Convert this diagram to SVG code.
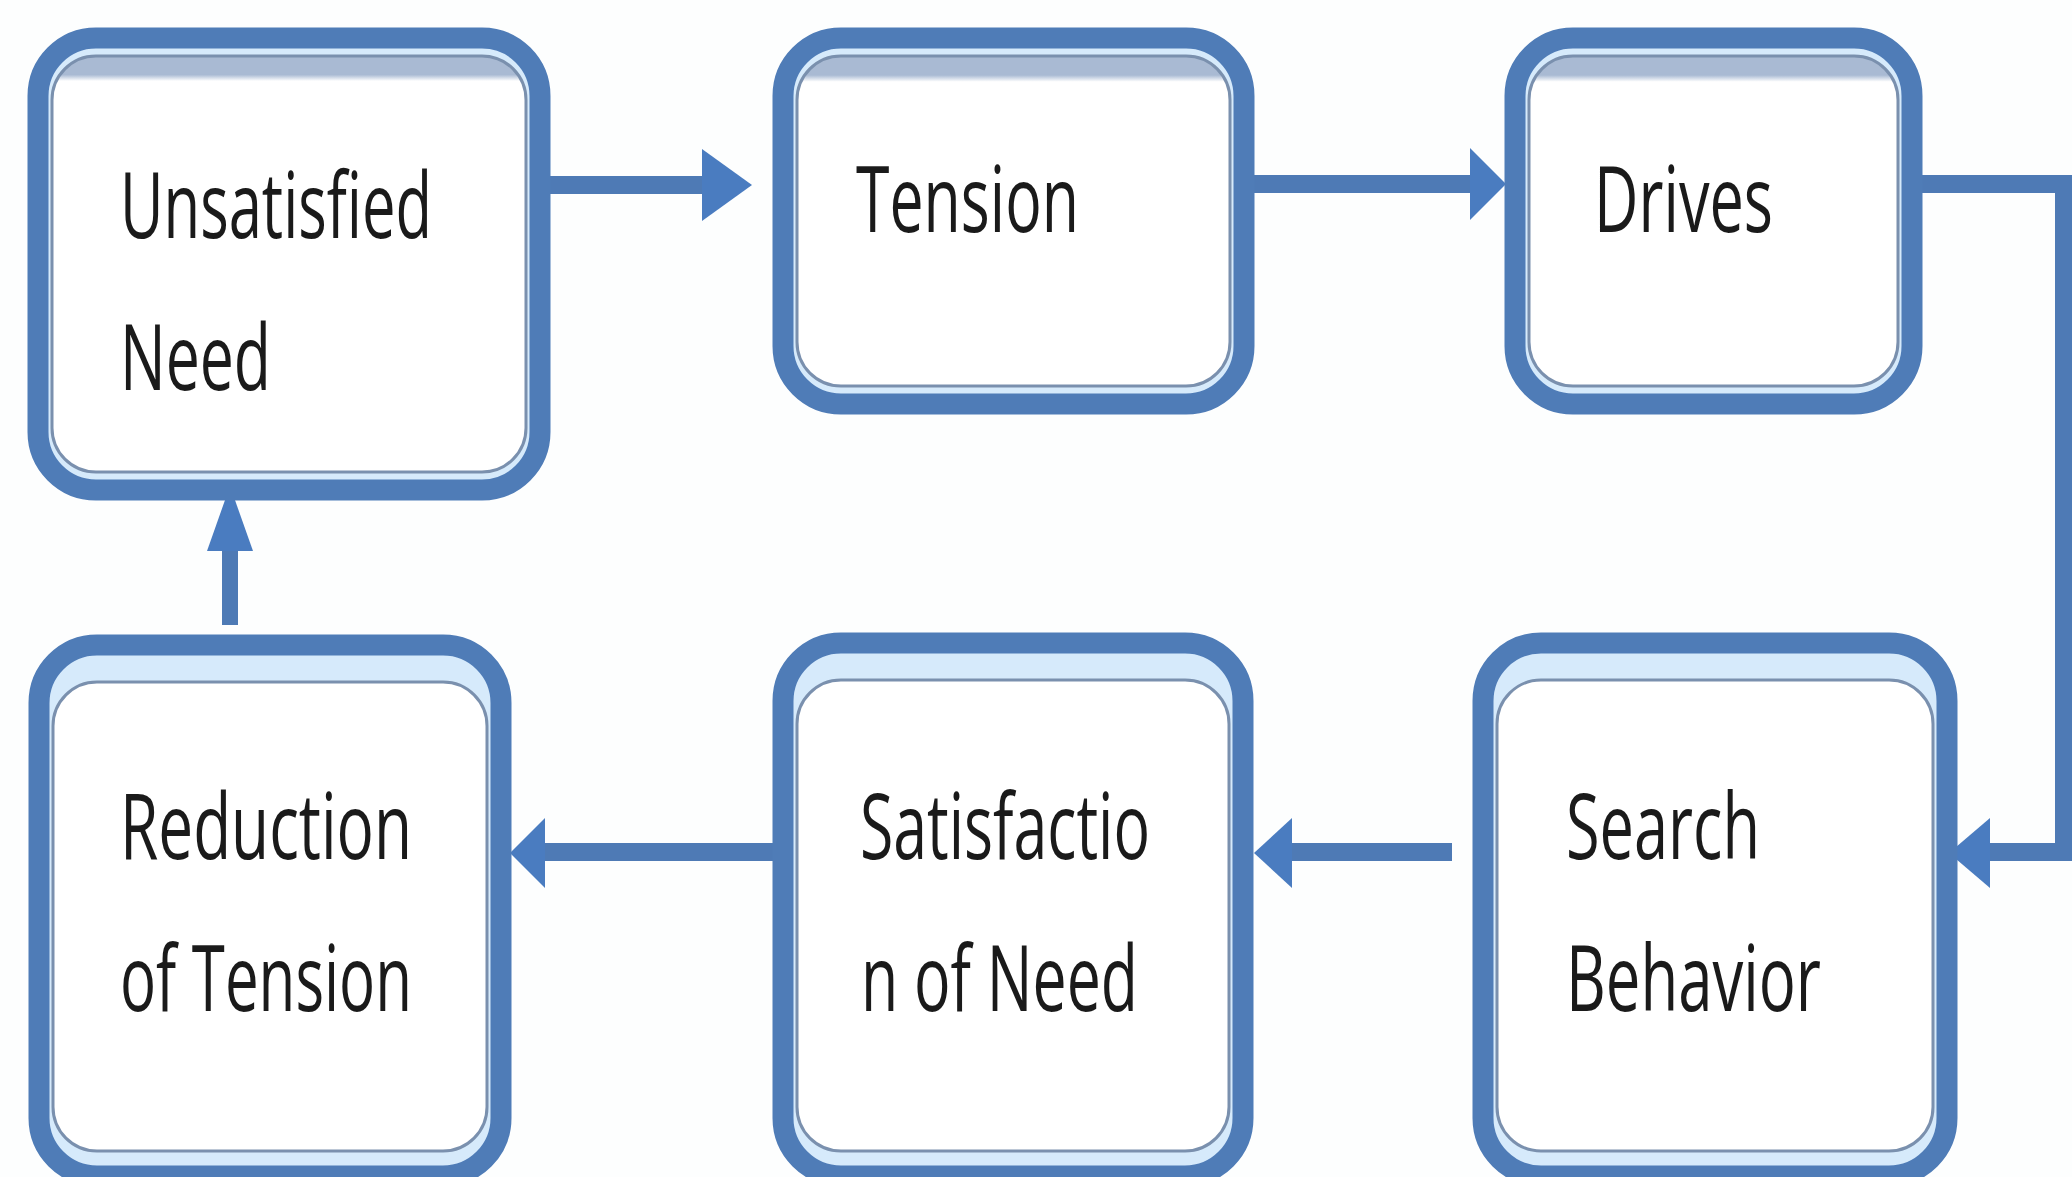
<svg xmlns="http://www.w3.org/2000/svg" width="2072" height="1177" viewBox="0 0 2072 1177">
  <defs>
    <style>
      .outer { fill: #d6eafb; stroke: #4f7cb7; stroke-width: 21; }
      .inner { stroke: #7a90ae; stroke-width: 3; }
      .lbl { font-family: "Open Sans", "Noto Sans", "DejaVu Sans", sans-serif; font-size: 92px; fill: #1a1a1a; }
      .conn { fill: none; stroke: #4e7ab5; stroke-width: 18; }
      .head { fill: #4a7cc0; }
    </style>
    <linearGradient id="gTall" x1="0" y1="0" x2="0" y2="1">
      <stop offset="0" stop-color="#a9bad3"/>
      <stop offset="0.045" stop-color="#a9bad3"/>
      <stop offset="0.06" stop-color="#ffffff"/>
      <stop offset="1" stop-color="#ffffff"/>
    </linearGradient>
    <linearGradient id="gShort" x1="0" y1="0" x2="0" y2="1">
      <stop offset="0" stop-color="#a9bad3"/>
      <stop offset="0.058" stop-color="#a9bad3"/>
      <stop offset="0.078" stop-color="#ffffff"/>
      <stop offset="1" stop-color="#ffffff"/>
    </linearGradient>
  </defs>
  <rect x="0" y="0" width="2072" height="1177" fill="#fdfefe"/>

  <g id="connectors">
    <line class="conn" x1="550" y1="185" x2="706" y2="185"/>
    <polygon class="head" points="702,149 752,185 702,221"/>
    <line class="conn" x1="1254" y1="184" x2="1474" y2="184"/>
    <polygon class="head" points="1470,148 1506,184 1470,220"/>
    <polyline class="conn" points="1922,184 2064,184 2064,852 1985,852"/>
    <polygon class="head" points="1990,818 1949,853 1990,888"/>
    <line class="conn" x1="1452" y1="852" x2="1290" y2="852"/>
    <polygon class="head" points="1292,818 1254,853 1292,888"/>
    <line class="conn" x1="773" y1="852" x2="540" y2="852"/>
    <polygon class="head" points="545,818 510,853 545,888"/>
    <line x1="230" y1="625" x2="230" y2="545" stroke="#4e7ab5" stroke-width="16"/>
    <polygon class="head" points="207,551 230,486 253,551"/>
  </g>

  <g id="node-unsatisfied-need">
    <rect class="outer" x="38" y="38" width="502" height="452" rx="58"/>
    <rect class="inner" x="52" y="56" width="474" height="416" rx="44" fill="url(#gTall)"/>
    <text class="lbl" x="120" y="238" textLength="312" lengthAdjust="spacingAndGlyphs">Unsatisfied</text>
    <text class="lbl" x="120" y="390" textLength="151" lengthAdjust="spacingAndGlyphs">Need</text>
  </g>

  <g id="node-tension">
    <rect class="outer" x="783" y="38" width="461" height="366" rx="58"/>
    <rect class="inner" x="797" y="56" width="433" height="330" rx="44" fill="url(#gShort)"/>
    <text class="lbl" x="856" y="232" textLength="223" lengthAdjust="spacingAndGlyphs">Tension</text>
  </g>

  <g id="node-drives">
    <rect class="outer" x="1515" y="38" width="397" height="366" rx="58"/>
    <rect class="inner" x="1529" y="56" width="369" height="330" rx="44" fill="url(#gShort)"/>
    <text class="lbl" x="1594" y="232" textLength="179" lengthAdjust="spacingAndGlyphs">Drives</text>
  </g>

  <g id="node-reduction-of-tension">
    <rect class="outer" x="39" y="645" width="462" height="531" rx="58"/>
    <rect class="inner" x="53" y="682" width="434" height="469" rx="44" fill="#ffffff"/>
    <text class="lbl" x="120" y="859" textLength="292" lengthAdjust="spacingAndGlyphs">Reduction</text>
    <text class="lbl" x="120" y="1011" textLength="292" lengthAdjust="spacingAndGlyphs">of Tension</text>
  </g>

  <g id="node-satisfaction-of-need">
    <rect class="outer" x="783" y="643" width="460" height="533" rx="58"/>
    <rect class="inner" x="797" y="680" width="432" height="471" rx="44" fill="#ffffff"/>
    <text class="lbl" x="860" y="859" textLength="290" lengthAdjust="spacingAndGlyphs">Satisfactio</text>
    <text class="lbl" x="861" y="1011" textLength="277" lengthAdjust="spacingAndGlyphs">n of Need</text>
  </g>

  <g id="node-search-behavior">
    <rect class="outer" x="1483" y="643" width="464" height="533" rx="58"/>
    <rect class="inner" x="1497" y="680" width="436" height="471" rx="44" fill="#ffffff"/>
    <text class="lbl" x="1566" y="859" textLength="194" lengthAdjust="spacingAndGlyphs">Search</text>
    <text class="lbl" x="1566" y="1011" textLength="255" lengthAdjust="spacingAndGlyphs">Behavior</text>
  </g>
</svg>
